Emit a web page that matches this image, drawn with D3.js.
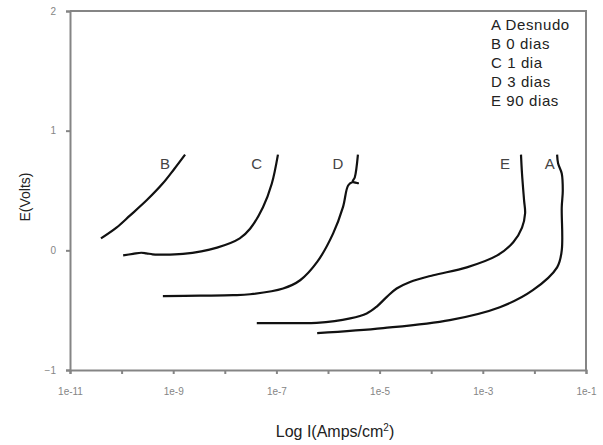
<!DOCTYPE html>
<html lang="en">
<meta charset="UTF-8">
<style>
    body { margin:0; background:#fff; }
    .axis path, .axis line { stroke:#858585; stroke-width:2; }
    .axis text { fill:#858585; font-size:10px; font-family:"Liberation Sans",Arial,sans-serif; }
    .curve { fill:none; stroke:#111; stroke-width:2.2; stroke-linejoin:round; }
    text.lbl { font-family:"Liberation Sans",Arial,sans-serif; fill:#444; }
</style>
<body>
<div id="chart"></div>
<script src="https://cdn.jsdelivr.net/npm/d3@7"></script>
<script>
    // curves: log10(I) and E(V)
    var logA = [-6.21, -4.93, -3.64, -2.67, -2.03, -1.56, -1.47, -1.47, -1.45, -1.47, -1.54, -1.56];
    var eA   = [-0.692, -0.65, -0.583, -0.475, -0.333, -0.142, 0.0, 0.358, 0.50, 0.642, 0.725, 0.80];

    var logB = [-10.40, -10.10, -9.84, -9.51, -9.20, -8.98, -8.77];
    var eB   = [0.10, 0.19, 0.29, 0.42, 0.56, 0.68, 0.80];

    var logC = [-9.97, -9.78, -9.62, -9.52, -9.40, -9.30, -8.81, -8.15, -7.71, -7.51, -7.26, -7.09, -6.97];
    var eC   = [-0.042, -0.030, -0.020, -0.025, -0.033, -0.036, -0.030, 0.023, 0.10, 0.18, 0.36, 0.556, 0.80];

    var logD = [-9.20, -8.48, -7.84, -7.51, -6.87, -6.54, -6.21, -5.90, -5.71, -5.61, -5.53, -5.42, -5.52, -5.48, -5.42];
    var eD   = [-0.383, -0.379, -0.375, -0.367, -0.319, -0.25, -0.097, 0.142, 0.361, 0.542, 0.569, 0.561, 0.575, 0.611, 0.80];

    var logE = [-7.38, -6.74, -6.22, -5.57, -5.25, -5.06, -4.86, -4.67, -4.41, -3.96, -3.31, -2.72, -2.41, -2.24, -2.18, -2.20, -2.24, -2.26];
    var eE   = [-0.608, -0.608, -0.606, -0.569, -0.528, -0.472, -0.389, -0.319, -0.264, -0.208, -0.142, -0.042, 0.067, 0.19, 0.31, 0.417, 0.64, 0.80];

    var curveNames = ["A", "B", "C", "D", "E"];
    var labelLog = [-1.70, -9.16, -7.38, -5.81, -2.57];
    var labelE = 0.72;
    var legendText = ["A Desnudo", "B 0 dias", "C 1 dia", "D 3 dias", "E 90 dias"];

    var xTicks = [1e-11, 1e-10, 1e-9, 1e-8, 1e-7, 1e-6, 1e-5, 1e-4, 1e-3, 1e-2, 1e-1];
    var xTickLabels = ["1e-11", "", "1e-9", "", "1e-7", "", "1e-5", "", "1e-3", "", "1e-1"];
    var yTicks = [-1, 0, 1, 2];

    var width = 603, height = 445;
    var margin = {top:11, right:17, bottom:75, left:70};

    var svg = d3.select("#chart").append("svg")
        .attr("width", width)
        .attr("height", height);

    var x = d3.scaleLog()
        .domain([1e-11, 1e-1])
        .range([margin.left, width - margin.right]);

    var y = d3.scaleLinear()
        .domain([-1, 2])
        .range([height - margin.bottom, margin.top]);

    // frame top and right
    svg.append("path")
        .attr("d", "M" + x.range()[0] + "," + y(2) + "H" + x.range()[1] + "V" + y(-1))
        .attr("fill", "none")
        .attr("stroke", "#858585")
        .attr("stroke-width", 2);

    svg.append("g")
        .attr("class", "axis")
        .attr("transform", "translate(0," + y(-1) + ")")
        .call(d3.axisBottom(x)
            .tickValues(xTicks)
            .tickSize(4)
            .tickPadding(14)
            .tickFormat(function(d, i){ return xTickLabels[i]; }));

    svg.append("g")
        .attr("class", "axis")
        .attr("transform", "translate(" + x(1e-11) + ",0)")
        .call(d3.axisLeft(y)
            .tickValues(yTicks)
            .tickSize(4)
            .tickPadding(10)
            .tickFormat(d3.format("d")));

    var line = d3.line()
        .x(function(d){ return x(Math.pow(10, d[0])); })
        .y(function(d){ return y(d[1]); })
        .curve(d3.curveCatmullRom.alpha(0.5));

    var series = [[logA, eA], [logB, eB], [logC, eC], [logD, eD], [logE, eE]];

    svg.append("g")
        .selectAll("path")
        .data(series)
        .enter().append("path")
        .attr("class", "curve")
        .attr("d", function(s){ return line(d3.zip(s[0], s[1])); });

    svg.append("g")
        .selectAll("text")
        .data(curveNames)
        .enter().append("text")
        .attr("class", "lbl")
        .attr("x", function(d, i){ return x(Math.pow(10, labelLog[i])); })
        .attr("y", y(labelE))
        .attr("dy", "0.35em")
        .attr("text-anchor", "middle")
        .style("font-size", "15px")
        .text(function(d){ return d; });

    svg.append("g")
        .selectAll("text")
        .data(legendText)
        .enter().append("text")
        .attr("class", "lbl")
        .attr("x", 491)
        .attr("y", function(d, i){ return 25 + 19 * i; })
        .attr("dy", "0.35em")
        .style("font-size", "15px")
        .style("letter-spacing", "0.6px")
        .style("fill", "#222")
        .text(function(d){ return d; });

    // axis titles
    svg.append("text")
        .attr("class", "lbl")
        .attr("x", (x.range()[0] + x.range()[1]) / 2 + 7)
        .attr("y", 437)
        .attr("text-anchor", "middle")
        .style("font-size", "16px")
        .style("fill", "#222")
        .html("Log I(Amps/cm<tspan dy='-6' font-size='10px'>2</tspan><tspan dy='6'>)</tspan>");

    svg.append("text")
        .attr("class", "lbl")
        .attr("transform", "translate(30,197) rotate(-90)")
        .attr("text-anchor", "middle")
        .style("font-size", "14px")
        .style("fill", "#222")
        .text("E(Volts)");
</script>
</body>
</html>
